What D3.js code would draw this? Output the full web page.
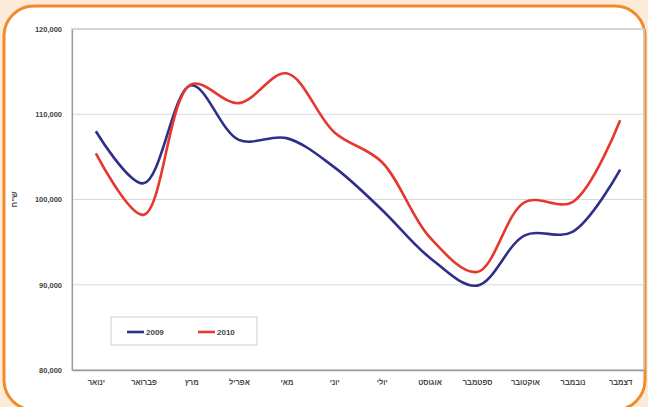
<!DOCTYPE html>
<html>
<head>
<meta charset="utf-8">
<script src="https://cdn.jsdelivr.net/npm/d3@7"></script>
<style>
	body { margin: 0; background: #fdebd9; }
	svg { display: block; }
	text { font-family: "Liberation Sans", Arial, sans-serif; }
</style>
</head>
<body>
<div id="chart"></div>
<script>

var months = ["ינואר", "פברואר", "מרץ", "אפריל", "מאי", "יוני", "יולי", "אוגוסט", "ספטמבר", "אוקטובר", "נובמבר", "דצמבר"];
var values2009 = [108000, 101900, 113400, 107000, 107200, 103800, 98800, 93200, 89900, 95800, 96200, 103500];
var values2010 = [105400, 98200, 113500, 111300, 114800, 107900, 104400, 95600, 91500, 99700, 99700, 109300];
var seriesNames = ["2009", "2010"];
var seriesColors = ["#2e2f86", "#e5382e"];
var yTicks = [80000, 90000, 100000, 110000, 120000];
var yLabel = "ש\"ח";

var width = 648, height = 407;
var plot = { "left": 72, "right": 644, "top": 29, "bottom": 370 };

var svg = d3.select("#chart").append("svg")
	.attr("width", width)
	.attr("height", height);

// orange rounded panel
svg.append("rect")
	.attr("x", 4)
	.attr("y", 6)
	.attr("width", 641)
	.attr("height", 404)
	.attr("rx", 30)
	.attr("ry", 30)
	.attr("fill", "#ffffff")
	.attr("stroke", "#f28a2a")
	.attr("stroke-width", 3);

var x = d3.scalePoint()
	.domain(months)
	.range([plot.left, plot.right])
	.padding(0.5);

var y = d3.scaleLinear()
	.domain([80000, 120000])
	.range([plot.bottom, plot.top]);

// gridlines
svg.append("g")
	.selectAll("line")
	.data(yTicks)
	.enter().append("line")
	.attr("x1", plot.left)
	.attr("x2", plot.right)
	.attr("y1", function(d) { return y(d); })
	.attr("y2", function(d) { return y(d); })
	.attr("stroke", "#d8d8d8")
	.attr("stroke-width", 1.2);

// plot frame
svg.append("rect")
	.attr("x", plot.left)
	.attr("y", plot.top)
	.attr("width", plot.right - plot.left)
	.attr("height", plot.bottom - plot.top)
	.attr("fill", "none")
	.attr("stroke", "#cfcfcf")
	.attr("stroke-width", 1.5);

var yAxis = svg.append("g")
	.attr("transform", "translate(" + plot.left + ",0)")
	.call(d3.axisLeft(y).tickValues(yTicks).tickSize(0).tickPadding(10).tickFormat(d3.format(",")));
yAxis.select(".domain").attr("stroke", "#9a9a9a").attr("stroke-width", 1.2);
yAxis.selectAll("text")
	.attr("fill", "#444")
	.style("font-size", "7.5px")
	.style("font-weight", "bold");

var xAxis = svg.append("g")
	.attr("transform", "translate(0," + plot.bottom + ")")
	.call(d3.axisBottom(x).tickSize(0).tickPadding(10));
xAxis.select(".domain").attr("stroke", "#9a9a9a").attr("stroke-width", 1.5);
xAxis.selectAll("text")
	.attr("fill", "#444")
	.style("font-size", "7.5px")
	.style("font-weight", "bold");

svg.append("text")
	.attr("transform", "translate(17," + y(100000) + ") rotate(-90)")
	.attr("text-anchor", "middle")
	.attr("fill", "#444")
	.style("font-size", "8px")
	.style("font-weight", "bold")
	.text(yLabel);

var line = d3.line()
	.x(function(d, i) { return x(months[i]); })
	.y(function(d) { return y(d); })
	.curve(d3.curveCatmullRom.alpha(0.5));

var allSeries = [values2009, values2010];
for (var s = 0; s < allSeries.length; s++) {
	svg.append("path")
		.datum(allSeries[s])
		.attr("d", line)
		.attr("fill", "none")
		.attr("stroke", seriesColors[s])
		.attr("stroke-width", 2.6);
}

// legend
var legend = svg.append("g");
legend.append("rect")
	.attr("x", 111)
	.attr("y", 317)
	.attr("width", 146)
	.attr("height", 28)
	.attr("fill", "#fff")
	.attr("stroke", "#d8d8d8")
	.attr("stroke-width", 1.2);
for (var k = 0; k < seriesNames.length; k++) {
	var lx = 127 + k * 71;
	legend.append("line")
		.attr("x1", lx)
		.attr("x2", lx + 17)
		.attr("y1", 332)
		.attr("y2", 332)
		.attr("stroke", seriesColors[k])
		.attr("stroke-width", 2.6);
	legend.append("text")
		.attr("x", lx + 19)
		.attr("y", 335)
		.attr("fill", "#444")
		.style("font-size", "8px")
		.style("font-weight", "bold")
		.text(seriesNames[k]);
}

</script>
</body>
</html>
